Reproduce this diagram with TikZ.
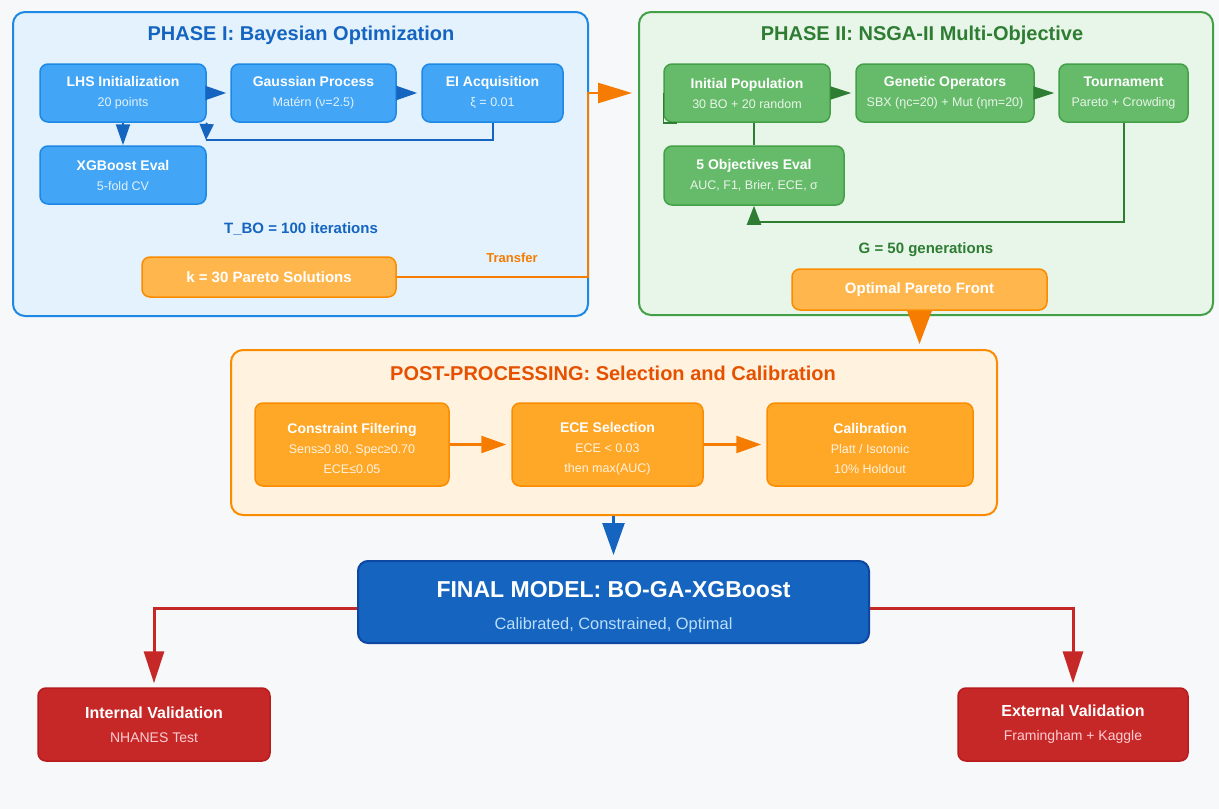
\documentclass[tikz,border=0pt]{standalone}
\usepackage{fontspec}
\setmainfont{Liberation Sans}
\usetikzlibrary{arrows.meta}
\definecolor{bg}{HTML}{F6F8FA}
\definecolor{pIfill}{HTML}{E3F2FD}
\definecolor{pIdraw}{HTML}{1E88E5}
\definecolor{pIIfill}{HTML}{E8F5E9}
\definecolor{pIIdraw}{HTML}{43A047}
\definecolor{ppfill}{HTML}{FFF3E0}
\definecolor{ppdraw}{HTML}{FB8C00}
\definecolor{bluefill}{HTML}{42A5F5}
\definecolor{bluedraw}{HTML}{1E88E5}
\definecolor{bluedark}{HTML}{1565C0}
\definecolor{bluesub}{HTML}{E3F2FD}
\definecolor{greenfill}{HTML}{66BB6A}
\definecolor{greendraw}{HTML}{43A047}
\definecolor{greendark}{HTML}{2E7D32}
\definecolor{greensub}{HTML}{E8F5E9}
\definecolor{olight}{HTML}{FFB74D}
\definecolor{ofill}{HTML}{FFA726}
\definecolor{odraw}{HTML}{FB8C00}
\definecolor{oline}{HTML}{F57C00}
\definecolor{odark}{HTML}{E65100}
\definecolor{osub}{HTML}{FFF3E0}
\definecolor{finalfill}{HTML}{1565C0}
\definecolor{finaldraw}{HTML}{0D47A1}
\definecolor{finalsub}{HTML}{BBDEFB}
\definecolor{redfill}{HTML}{C62828}
\definecolor{reddraw}{HTML}{B71C1C}
\definecolor{redsub}{HTML}{FFCDD2}
\newcommand{\ttl}[1]{{\bfseries\fontsize{14}{20}\selectfont #1}}
\newcommand{\stx}[2]{{\color{#1}#2}}
\begin{document}
\begin{tikzpicture}[x=1pt,y=-1pt,
  panel/.style={line width=2pt, rounded corners=12pt, inner sep=0pt},
  ptitle/.style={font=\bfseries\fontsize{20}{24}\selectfont, inner sep=0pt},
  box/.style={line width=1.5pt, rounded corners=8pt, inner sep=0pt, align=center, text=white, font=\fontsize{12.5}{20}\selectfont},
  bnode/.style={box, draw=bluedraw, fill=bluefill, minimum height=58pt},
  gnode/.style={box, draw=greendraw, fill=greenfill, minimum height=58pt},
  pnode/.style={box, draw=odraw, fill=ofill, minimum height=83pt},
  lonode/.style={box, draw=odraw, fill=olight, minimum height=40pt, font=\bfseries\fontsize{15}{18}\selectfont},
  rnode/.style={box, draw=reddraw, fill=redfill, minimum height=73pt, font=\fontsize{14}{24}\selectfont},
  barrow/.style={draw=bluedark, line width=2pt, -{Triangle[length=21pt,width=14pt]}},
  bline/.style={draw=bluedark, line width=2pt},
  garrow/.style={draw=greendark, line width=2pt, -{Triangle[length=21pt,width=13pt]}},
  gline/.style={draw=greendark, line width=2pt},
  oarrow/.style={draw=oline, line width=2.5pt, -{Triangle[length=25pt,width=17pt]}},
  rarrow/.style={draw=redfill, line width=3pt, -{Triangle[length=32pt,width=20pt]}, shorten >=4pt},
  note/.style={font=\bfseries\fontsize{15}{18}\selectfont, inner sep=0pt}
]
\useasboundingbox[fill=bg] (0,0) rectangle (1219,809);

% ---------- Panels ----------
\node[panel, draw=pIdraw, fill=pIfill, minimum width=575pt, minimum height=304pt] (p1) at (300.5,164) {};
\node[panel, draw=pIIdraw, fill=pIIfill, minimum width=574pt, minimum height=303pt] (p2) at (926,163.5) {};
\node[panel, draw=ppdraw, fill=ppfill, minimum width=766pt, minimum height=165pt] (post) at (614,432.5) {};

\node[ptitle, text=bluedark] (t1) at (301,35) {PHASE I: Bayesian Optimization};
\node[ptitle, text=greendark] (t2) at (922,35) {PHASE II: NSGA-II Multi-Objective};
\node[ptitle, text=odark] (t3) at (613,373) {POST-PROCESSING: Selection and Calibration};

% ---------- Phase I ----------
\node[bnode, minimum width=166pt] (lhs) at (123,93) {\ttl{LHS Initialization}\\\stx{bluesub}{20 points}};
\node[bnode, minimum width=165pt] (gp) at (313.5,93) {\ttl{Gaussian Process}\\\stx{bluesub}{Matérn (ν=2.5)}};
\node[bnode, minimum width=141pt] (ei) at (492.5,93) {\ttl{EI Acquisition}\\\stx{bluesub}{ξ = 0.01}};
\node[bnode, minimum width=166pt] (xgb) at (123,175) {\ttl{XGBoost Eval}\\\stx{bluesub}{5-fold CV}};
\node[note, text=bluedark] (tbo) at (301,229) {T\_BO = 100 iterations};
\node[lonode, minimum width=254pt] (kbox) at (269,277) {k = 30 Pareto Solutions};
\node[font=\bfseries\fontsize{13}{16}\selectfont, text=oline, inner sep=0pt] (trans) at (512,258) {Transfer};

\draw[barrow, shorten >=4pt] (lhs.east) -- (gp.west);
\draw[barrow, shorten >=4pt] (gp.east) -- (ei.west);
\draw[barrow] (lhs.south) -- (xgb.north);
\coordinate (fb) at (206,140);
\draw[bline] (ei.south) |- (fb);
\draw[draw=bluedark, line width=2pt, -{Triangle[length=16pt,width=14pt]}] (lhs.south east) -- (fb);

% transfer arrow
\coordinate (tc) at (588,93);
\draw[draw=oline, line width=2.5pt, -{Triangle[length=34pt,width=20pt]}, shorten >=6pt] (kbox.east) -| (tc) -- (tc -| p2.west);

% ---------- Phase II ----------
\node[gnode, minimum width=166pt] (init) at (747,93) {\ttl{Initial Population}\\\stx{greensub}{30 BO + 20 random}};
\node[gnode, minimum width=178pt] (gen) at (945,93) {\ttl{Genetic Operators}\\\stx{greensub}{SBX (ηc=20) + Mut (ηm=20)}};
\node[gnode, minimum width=129pt] (tour) at (1123.5,93) {\ttl{Tournament}\\\stx{greensub}{Pareto + Crowding}};
\node[gnode, minimum width=180pt, minimum height=59pt] (obj) at (754,175.5) {\ttl{5 Objectives Eval}\\\stx{greensub}{AUC, F1, Brier, ECE, σ}};
\node[note, text=greendark] (gtxt) at (926,250) {G = 50 generations};
\node[lonode, minimum width=255pt, minimum height=41pt] (pf) at (919.5,289.5) {Optimal Pareto Front};

\draw[garrow, shorten >=4pt] (init.east) -- (gen.west);
\draw[garrow, shorten >=4pt] (gen.east) -- (tour.west);
\draw[gline] (init.south -| obj.north) -- (obj.north);
\coordinate (gc) at (754,222);
\draw[draw=greendark, line width=2pt, -{Triangle[length=19pt,width=14pt]}] (tour.south) |- (gc) -- (obj.south);
\draw[gline, line width=1.5pt] (init.west) -- (init.south west) -- ++(14,0);

% Pareto -> post
\draw[draw=oline, line width=2.5pt, -{Triangle[length=33pt,width=24pt]}, shorten >=5pt] (pf.south) -- (pf.south |- post.north);

% ---------- Post-processing ----------
\node[pnode, minimum width=194pt] (cf) at (352,444.5) {\rule{0pt}{19pt}\ttl{Constraint Filtering}\\\stx{osub}{Sens≥0.80, Spec≥0.70}\\\stx{osub}{ECE≤0.05}};
\node[pnode, minimum width=191pt] (ece) at (607.5,444.5) {\rule{0pt}{19pt}\ttl{ECE Selection}\\\stx{osub}{ECE < 0.03}\\\stx{osub}{then max(AUC)}};
\node[pnode, minimum width=206pt] (cal) at (870,444.5) {\rule{0pt}{19pt}\ttl{Calibration}\\\stx{osub}{Platt / Isotonic}\\\stx{osub}{10\% Holdout}};
\draw[oarrow, shorten >=5pt] (cf.east) -- (ece.west);
\draw[oarrow, shorten >=5pt] (ece.east) -- (cal.west);

% ---------- Final ----------
\node[box, draw=finaldraw, fill=finalfill, minimum width=511pt, minimum height=82pt, line width=2pt, rounded corners=10pt, font=\fontsize{16.4}{32}\selectfont] (final) at (613.5,602) {\rule{0pt}{26pt}{\bfseries\fontsize{23}{32}\selectfont FINAL MODEL: BO-GA-XGBoost}\\\stx{finalsub}{Calibrated, Constrained, Optimal}};
\draw[draw=bluedark, line width=2.5pt, -{Triangle[length=32pt,width=22pt]}, shorten >=5pt] (post.south -| final.north) -- (final.north);

\node[rnode, minimum width=232pt] (int) at (154,724.5) {{\bfseries\fontsize{16}{24}\selectfont Internal Validation}\\\stx{redsub}{NHANES Test}};
\node[rnode, minimum width=230pt] (ext) at (1073,724.5) {{\bfseries\fontsize{16}{24}\selectfont External Validation}\\\stx{redsub}{Framingham + Kaggle}};
\draw[rarrow] ([yshift=-6pt]final.west) -| (int.north);
\draw[rarrow] ([yshift=-6pt]final.east) -| (ext.north);
\end{tikzpicture}
\end{document}
